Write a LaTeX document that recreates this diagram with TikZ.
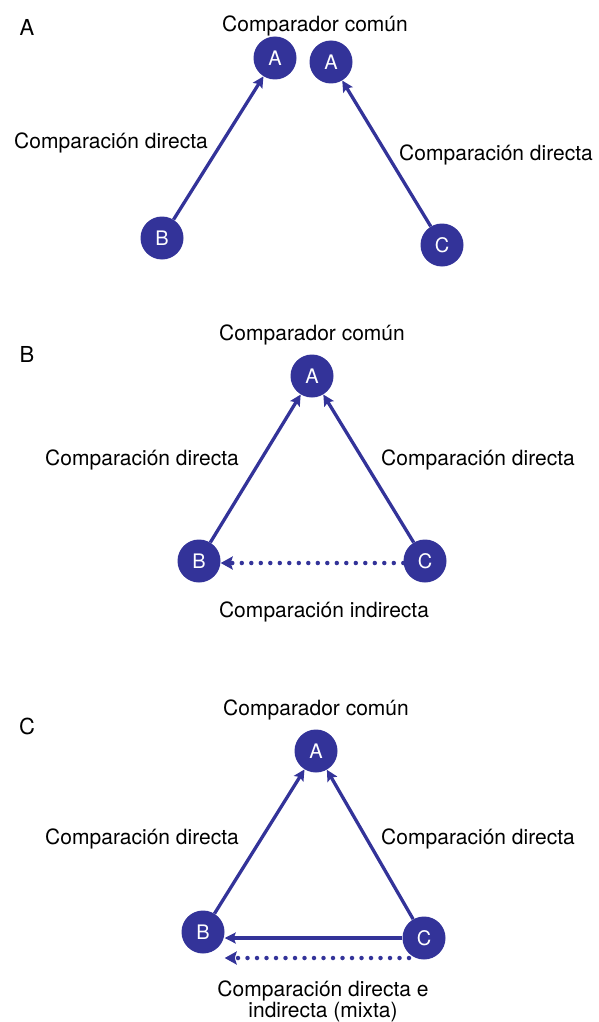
\documentclass[tikz,border=0pt]{standalone}
\usepackage{fontspec}
\setmainfont{TeX Gyre Heros}
\usetikzlibrary{arrows.meta}
\definecolor{dblue}{RGB}{51,51,153}
\begin{document}
\begin{tikzpicture}[x=1pt,y=-1pt,
  circ/.style={circle,fill=dblue,minimum size=43pt,inner sep=0pt,text=white,font=\fontsize{20}{20}\selectfont},
  lbl/.style={anchor=base,inner sep=0pt,font=\fontsize{21}{21}\selectfont},
  plbl/.style={anchor=base,inner sep=0pt,font=\fontsize{22}{22}\selectfont},
  arr/.style={draw=dblue,line width=3.3pt,-{Stealth[length=11pt,width=11pt,inset=2pt]}},
  dotarr/.style={draw=dblue,line width=4.5pt,line cap=round,dash pattern=on 0pt off 9.5pt,-{Stealth[length=12pt,width=13pt,inset=2pt,line cap=butt]}}
]
\useasboundingbox (0,0) rectangle (598,1022);
% Panel A
\node[plbl] (pA) at (27,36) {A};
\node[lbl] (tA) at (315,32) {Comparador común};
\node[circ] (A1) at (275,58) {A};
\node[circ] (A2) at (331,62) {A};
\node[circ] (B1) at (162,238) {B};
\node[circ] (C1) at (442,245) {C};
\draw[arr] (B1) -- (A1);
\draw[arr] (C1) -- (A2);
\node[lbl] (lA1) at (111,148) {Comparación directa};
\node[lbl] (lA2) at (496,160) {Comparación directa};
% Panel B
\node[plbl] (pB) at (27,362) {B};
\node[lbl] (tB) at (312,340) {Comparador común};
\node[circ] (A3) at (312,376) {A};
\node[circ] (B3) at (199,561) {B};
\node[circ] (C3) at (425,561) {C};
\draw[arr] (B3) -- (A3);
\draw[arr] (C3) -- (A3);
\draw[dotarr] ([yshift=-2pt]C3.west) -- ([yshift=-2pt]C3.west -| B3.east);
\node[lbl] (lB1) at (142,465) {Comparación directa};
\node[lbl] (lB2) at (478,465) {Comparación directa};
\node[lbl] (lB3) at (324,617) {Comparación indirecta};
% Panel C
\node[plbl] (pC) at (27,734) {C};
\node[lbl] (tC) at (316,715) {Comparador común};
\node[circ] (A4) at (316,751) {A};
\node[circ] (B4) at (203,932) {B};
\node[circ] (C4) at (424,938) {C};
\draw[arr] (B4) -- (A4);
\draw[arr] (C4) -- (A4);
\draw[arr] (C4.west) -- (C4.west -| B4.east);
\draw[dotarr] ([xshift=-15pt,yshift=-20pt]C4.center) -- ([yshift=-20pt]C4.center -| B4.east);
\node[lbl] (lC1) at (142,844) {Comparación directa};
\node[lbl] (lC2) at (478,844) {Comparación directa};
\node[lbl] (lC3) at (323,996) {Comparación directa e};
\node[lbl] (lC4) at (323,1017) {indirecta (mixta)};
\end{tikzpicture}
\end{document}
